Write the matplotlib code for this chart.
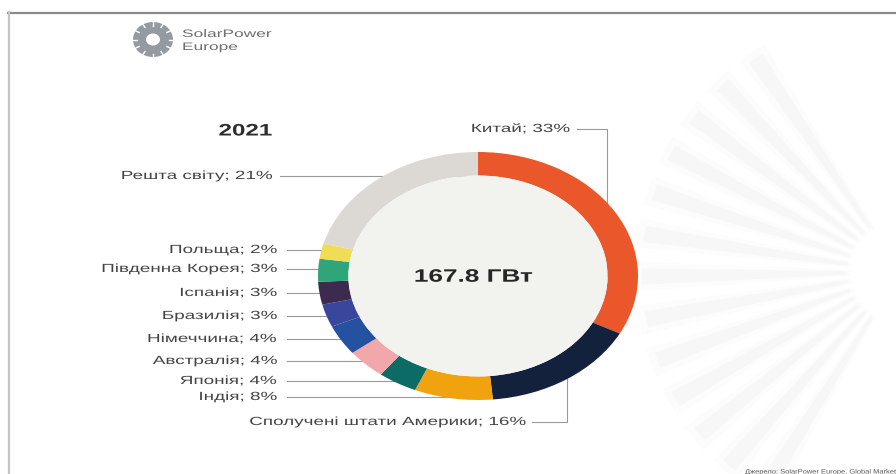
import numpy as np
import matplotlib
matplotlib.use('Agg')
import matplotlib.pyplot as plt
from matplotlib.patches import Circle, Ellipse, Wedge
from matplotlib.patheffects import AbstractPathEffect
from matplotlib.transforms import Affine2D

plt.rcParams['font.family'] = ['Liberation Sans', 'DejaVu Sans']

# 2021 installed solar capacity by market
countries = ['Китай', 'Сполучені штати Америки', 'Індія', 'Японія', 'Австралія',
             'Німеччина', 'Бразилія', 'Іспанія', 'Південна Корея', 'Польща', 'Решта світу']
shares = [33, 16, 8, 4, 4, 4, 3, 3, 3, 2, 21]
total_gw = 167.8
year = '2021'

colors = ['#e9572b', '#14213d', '#f0a30f', '#0d6b66', '#f2a7aa', '#2451a0',
          '#38479b', '#3c2b4e', '#2fa57a', '#f0dc55', '#dcd9d5']

TEXT = '#444444'
LINE = '#9a9a9a'
WIDE = 1.6       # labels
WIDE_BOLD = 1.45  # headings


class Widen(AbstractPathEffect):
    """Stretch glyphs horizontally around the text anchor."""

    def __init__(self, text, sx):
        super().__init__()
        self.text = text
        self.sx = sx

    def draw_path(self, renderer, gc, tpath, affine, rgbFace=None):
        x0 = self.text.get_transform().transform(self.text.get_position())[0]
        m = affine + Affine2D().translate(-x0, 0).scale(self.sx, 1).translate(x0, 0)
        renderer.draw_path(gc, tpath, Affine2D(m.get_matrix()), rgbFace)


def wide_text(ax, x, y, s, sx=WIDE, **kw):
    t = ax.text(x, y, s, **kw)
    t.set_path_effects([Widen(t, sx)])
    return t


fig = plt.figure(figsize=(8.96, 4.74), dpi=100)
fig.patch.set_facecolor('white')

# background layer in pixel coordinates
bg = fig.add_axes([0, 0, 1, 1], zorder=0)
bg.set_xlim(0, 896)
bg.set_ylim(474, 0)
bg.axis('off')

# faint sunburst on the right
for a in np.arange(122, 242, 9.5):
    bg.add_patch(Wedge((900, 272), 265, a - 3.2, a + 3.2, width=215,
                       facecolor='#fcfcfc', edgecolor='none'))
    bg.add_patch(Wedge((900, 272), 258, a - 1.8, a + 1.8, width=205,
                       facecolor='#f7f7f7', edgecolor='none'))

# frame
bg.plot([8, 896], [12.5, 12.5], color='#8a8a8a', lw=1.6)
bg.plot([8.5, 8.5], [12, 474], color='#c4c4c4', lw=1.6)

# logo
bg.add_patch(Ellipse((153, 39.5), 40, 35, facecolor='#959aa1', edgecolor='none'))
bg.add_patch(Ellipse((153, 39.5), 14, 12, facecolor='white', edgecolor='none'))
for a in np.arange(0, 360, 30):
    r = np.deg2rad(a)
    bg.plot([153 + 16 * np.cos(r), 153 + 21 * np.cos(r)],
            [39.5 + 14 * np.sin(r), 39.5 + 18 * np.sin(r)], color='white', lw=1.0)
wide_text(bg, 182, 34, 'SolarPower', fontsize=7.8, color='#6e6e6e', va='center')
wide_text(bg, 182, 47, 'Europe', fontsize=7.8, color='#6e6e6e', va='center')

wide_text(bg, 272, 131, year, sx=WIDE_BOLD, fontsize=12, fontweight='bold',
          color='#2e2e2e', ha='right', va='center')

# labels and leader lines
cx, cy = 478, 276
lbl = [f'{c}; {s}%' for c, s in zip(countries, shares)]

left_rows = [(9, 250), (8, 269), (7, 293), (6, 316), (5, 339), (4, 361), (3, 381), (2, 397)]
for i, y in left_rows:
    wide_text(bg, 277, y, lbl[i], fontsize=8.5, color=TEXT, ha='right', va='center')
    bg.plot([287, cx], [y, y], color=LINE, lw=0.8)

wide_text(bg, 272, 176, lbl[10], fontsize=8.5, color=TEXT, ha='right', va='center')
bg.plot([280, cx], [176, 176], color=LINE, lw=0.8)

wide_text(bg, 570, 129, lbl[0], fontsize=8.5, color=TEXT, ha='right', va='center')
bg.plot([577, 607, 607], [129, 129, cy], color=LINE, lw=0.8)

wide_text(bg, 388, 422, lbl[1], fontsize=8.5, color=TEXT, ha='center', va='center')
bg.plot([532, 567, 567], [422, 422, cy], color=LINE, lw=0.8)

wide_text(bg, 745, 472, 'Джерело: SolarPower Europe, Global Market Outlook',
          sx=1.2, fontsize=4.5, color='#555555', ha='left', va='center')

# donut
pax = fig.add_axes([318 / 896, (474 - 400) / 474, 320 / 896, 248 / 474], zorder=2)
pax.pie(shares, colors=colors, startangle=90, counterclock=False, radius=1,
        wedgeprops=dict(width=0.19, edgecolor='none'))
pax.add_patch(Circle((0, 0), 0.81, facecolor='#f2f2ee', edgecolor='none'))
pax.set_aspect('auto')
pax.set_xlim(-1, 1)
pax.set_ylim(-1, 1)
pax.axis('off')
wide_text(pax, -0.03, -0.01, f'{total_gw} ГВт', sx=WIDE_BOLD, fontsize=13,
          fontweight='bold', color='#262626', ha='center', va='center')

fig.savefig('out.png', dpi=100, facecolor='white')
